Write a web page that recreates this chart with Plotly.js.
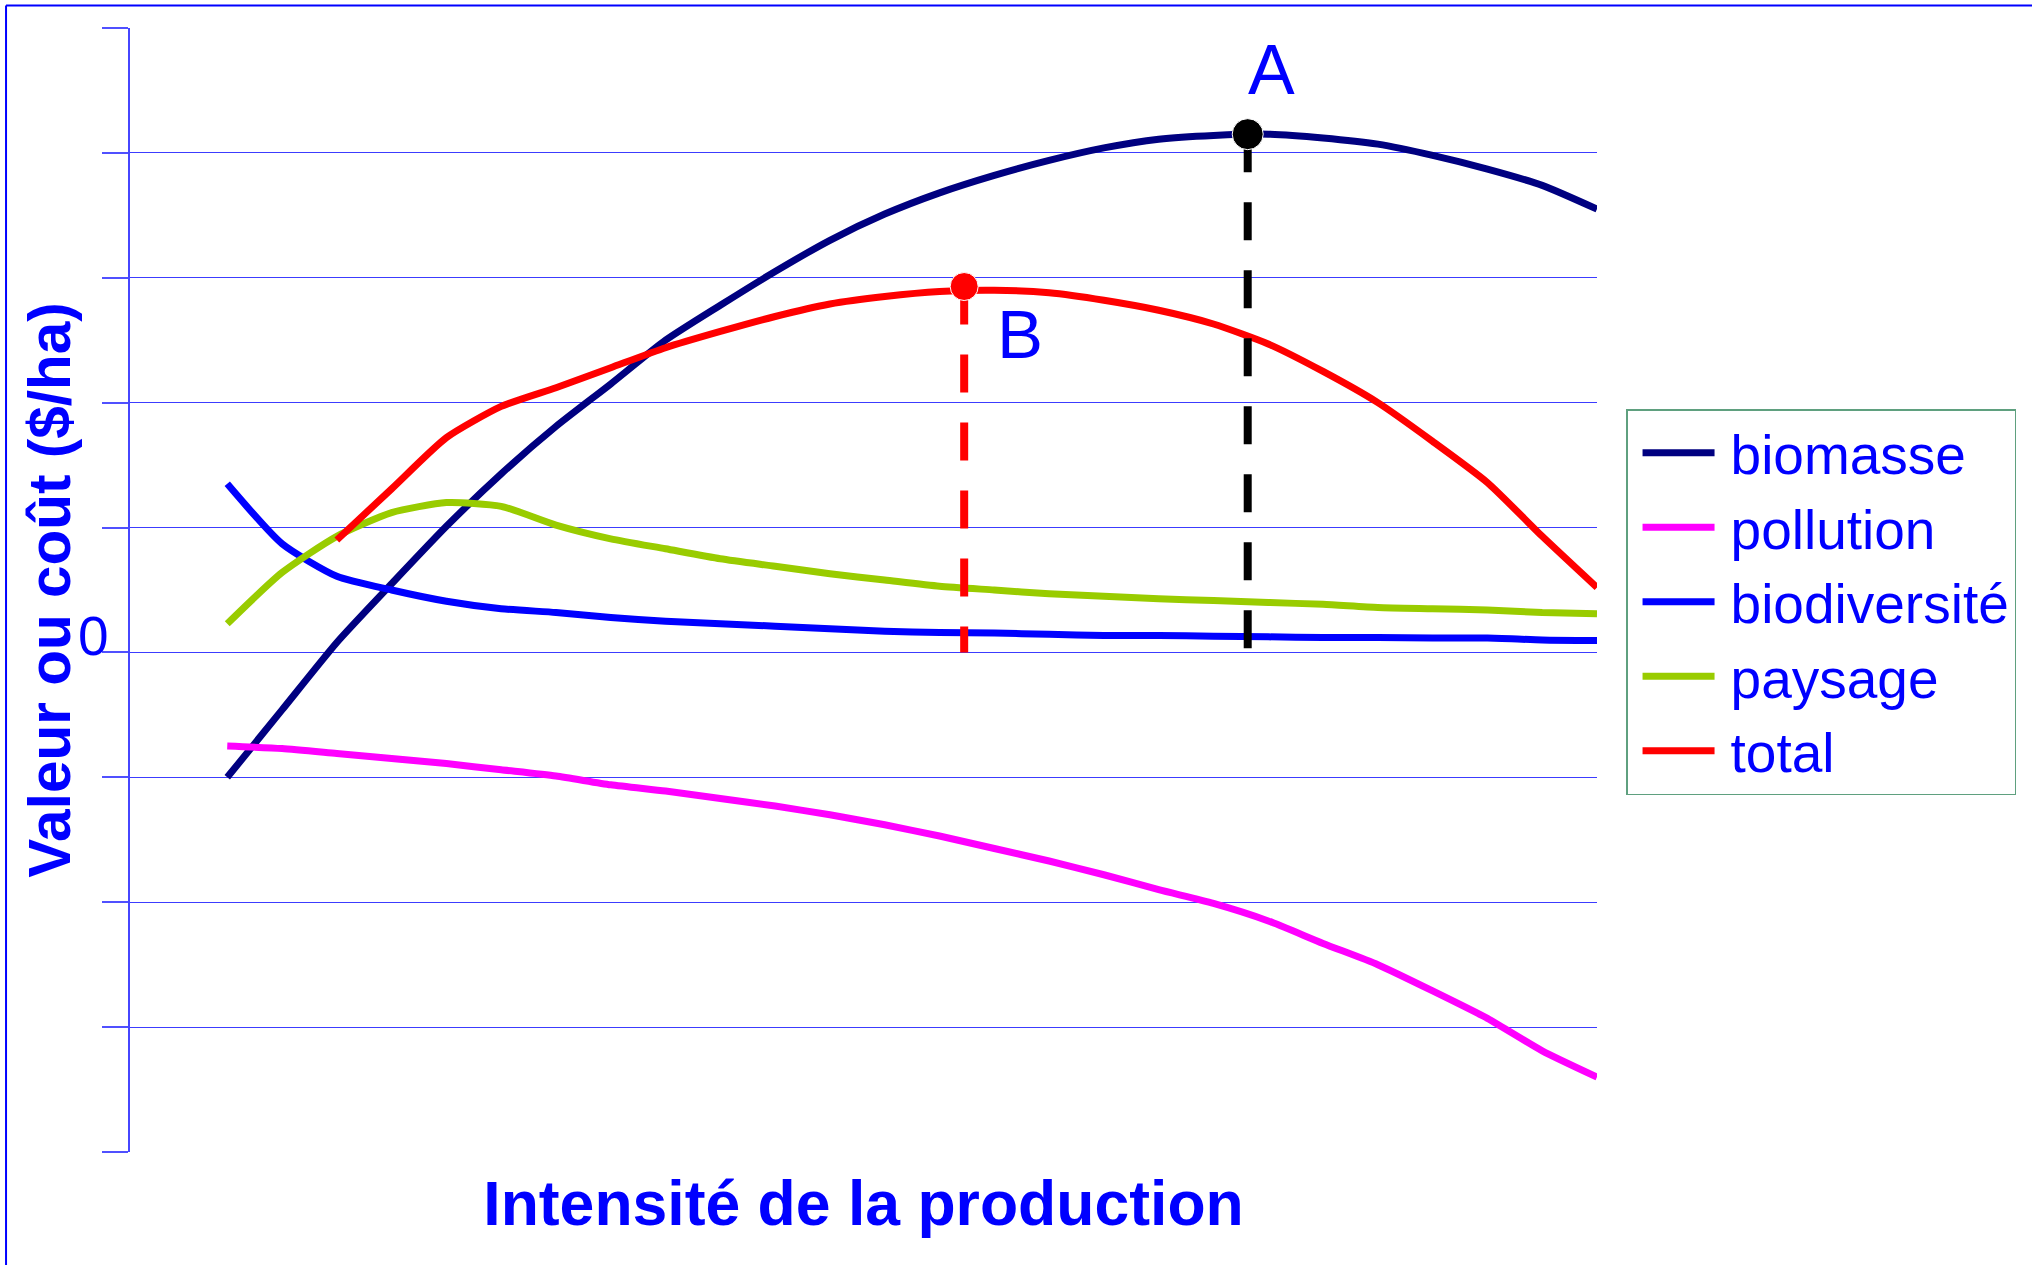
<!DOCTYPE html>
<html>
<head>
<meta charset="utf-8">
<script src="https://cdn.plot.ly/plotly-3.0.1.min.js"></script>
<style>
  body { margin: 0; background: #fff; }
  #vis { width: 2032px; height: 1265px; }
</style>
</head>
<body>
<div id="vis"></div>
<script>
// intensity of production (arbitrary units, 0 = extensive, 100 = intensive)
const intensite = [0, 4, 8, 12, 16, 20, 24, 28, 32, 36, 40, 44, 48, 52, 56, 60, 64, 68, 72, 76, 80, 84, 88, 92, 96, 100]

// values, one grid step = 1
const biomasse = [-1.00, -0.46, 0.08, 0.55, 1.01, 1.43, 1.81, 2.15, 2.50, 2.78, 3.05, 3.30, 3.51, 3.68, 3.82, 3.94, 4.04, 4.11, 4.14, 4.15, 4.12, 4.07, 3.98, 3.87, 3.74, 3.55]
const pollution = [-0.75, -0.77, -0.81, -0.85, -0.89, -0.94, -0.99, -1.06, -1.11, -1.17, -1.23, -1.30, -1.38, -1.47, -1.57, -1.67, -1.78, -1.90, -2.01, -2.15, -2.33, -2.50, -2.71, -2.93, -3.19, -3.40]
const biodiversite = [1.35, 0.87, 0.61, 0.50, 0.41, 0.35, 0.32, 0.28, 0.25, 0.23, 0.21, 0.19, 0.17, 0.16, 0.155, 0.145, 0.135, 0.135, 0.13, 0.125, 0.12, 0.12, 0.115, 0.115, 0.10, 0.095]
const paysage = [0.23, 0.64, 0.93, 1.12, 1.20, 1.17, 1.02, 0.91, 0.83, 0.75, 0.69, 0.63, 0.58, 0.53, 0.50, 0.47, 0.45, 0.43, 0.415, 0.40, 0.385, 0.36, 0.35, 0.34, 0.32, 0.31]
const total = [null, null, 0.90, 1.31, 1.72, 1.97, 2.12, 2.28, 2.44, 2.57, 2.69, 2.79, 2.85, 2.89, 2.90, 2.88, 2.82, 2.74, 2.63, 2.47, 2.25, 2.00, 1.69, 1.36, 0.93, 0.52]

// optimum points: A = max biomass, B = max total value
const optimumLabels = ['A', 'B']
const optimumX = [74.5, 53.8]
const optimumY = [4.15, 2.93]

const names = ['biomasse', 'pollution', 'biodiversité', 'paysage', 'total']
const series = [biomasse, pollution, biodiversite, paysage, total]
const colors = ['#000080', '#ff00ff', '#0000ff', '#99cc00', '#ff0000']
const optimumColors = ['#000000', '#ff0000']

const FONT = 'Arial, "Liberation Sans", sans-serif'
const BLUE = '#0000ff'

var data = series.map((ys, i) => ({
  x: intensite,
  y: ys,
  // thin space keeps the legend text off the line sample
  name: '\u2009' + names[i],
  type: 'scatter',
  mode: 'lines',
  line: { color: colors[i], width: 7, shape: 'spline', smoothing: 0.6 }
}))

// dashed drop lines from each optimum down to zero
optimumX.forEach((ox, i) => {
  data.push({
    x: [ox, ox],
    y: [optimumY[i], 0],
    type: 'scatter',
    mode: 'lines',
    showlegend: false,
    hoverinfo: 'skip',
    line: { color: optimumColors[i], width: 8, dash: '38px,30px' }
  })
})

data.push({
  x: optimumX,
  y: optimumY,
  type: 'scatter',
  mode: 'markers',
  showlegend: false,
  marker: { color: optimumColors, size: [31, 28], opacity: 1 }
})

var annotations = [
  { text: optimumLabels[0], x: optimumX[0], y: optimumY[0], xshift: 24, yshift: 64,
    showarrow: false, font: { family: FONT, size: 70, color: BLUE } },
  { text: optimumLabels[1], x: optimumX[1], y: optimumY[1], xshift: 56, yshift: -48,
    showarrow: false, font: { family: FONT, size: 69, color: BLUE } },
  { text: '0', xref: 'paper', x: -0.037, y: 0, yshift: 16,
    showarrow: false, font: { family: FONT, size: 55, color: BLUE } }
]

// frame around the slide (left and top edges only are visible)
var shapes = [
  { type: 'line', xref: 'paper', yref: 'paper', x0: -0.0845, x1: -0.0845, y0: 1.02, y1: -0.11,
    line: { color: BLUE, width: 2 } },
  { type: 'line', xref: 'paper', yref: 'paper', x0: -0.0845, x1: 1.31, y0: 1.02, y1: 1.02,
    line: { color: BLUE, width: 2 } }
]

var layout = {
  width: 2032,
  height: 1265,
  margin: { l: 130, r: 435, t: 28, b: 113 },
  paper_bgcolor: '#ffffff',
  plot_bgcolor: '#ffffff',
  font: { family: FONT, color: BLUE },
  showlegend: true,
  legend: {
    x: 1.0198, xanchor: 'left',
    y: 0.661, yanchor: 'top',
    bordercolor: '#5fa07f', borderwidth: 1.5,
    font: { family: FONT, size: 55, color: BLUE },
    itemwidth: 72,
    indentation: 10,
    tracegroupgap: 0
  },
  xaxis: {
    range: [-7.1, 100],
    showgrid: false, zeroline: false, showline: false,
    showticklabels: false, ticks: '',
    title: { text: '<b>Intensité de la production</b>', font: { family: FONT, size: 62.5, color: BLUE }, standoff: 29 }
  },
  yaxis: {
    range: [-4, 5],
    tickmode: 'array',
    tickvals: [-3, -2, -1, 0, 1, 2, 3, 4],
    ticktext: ['', '', '', '', '', '', '', ''],
    ticks: 'outside', ticklen: 26, tickcolor: 'rgb(80,80,255)', tickwidth: 1.5,
    minor: { tickmode: 'array', tickvals: [-4, 5], ticks: 'outside', ticklen: 26, tickcolor: 'rgb(80,80,255)', tickwidth: 1.5, showgrid: false },
    showgrid: true, gridcolor: 'rgb(60,60,255)', gridwidth: 1,
    zeroline: false,
    showline: true, linecolor: 'rgb(70,70,255)', linewidth: 1.5,
    title: { text: '<b>Valeur ou coût ($/ha)</b>', font: { family: FONT, size: 58.5, color: BLUE }, standoff: 10 }
  },
  annotations: annotations,
  shapes: shapes
}

Plotly.newPlot('vis', data, layout, { displayModeBar: false })
</script>
</body>
</html>
